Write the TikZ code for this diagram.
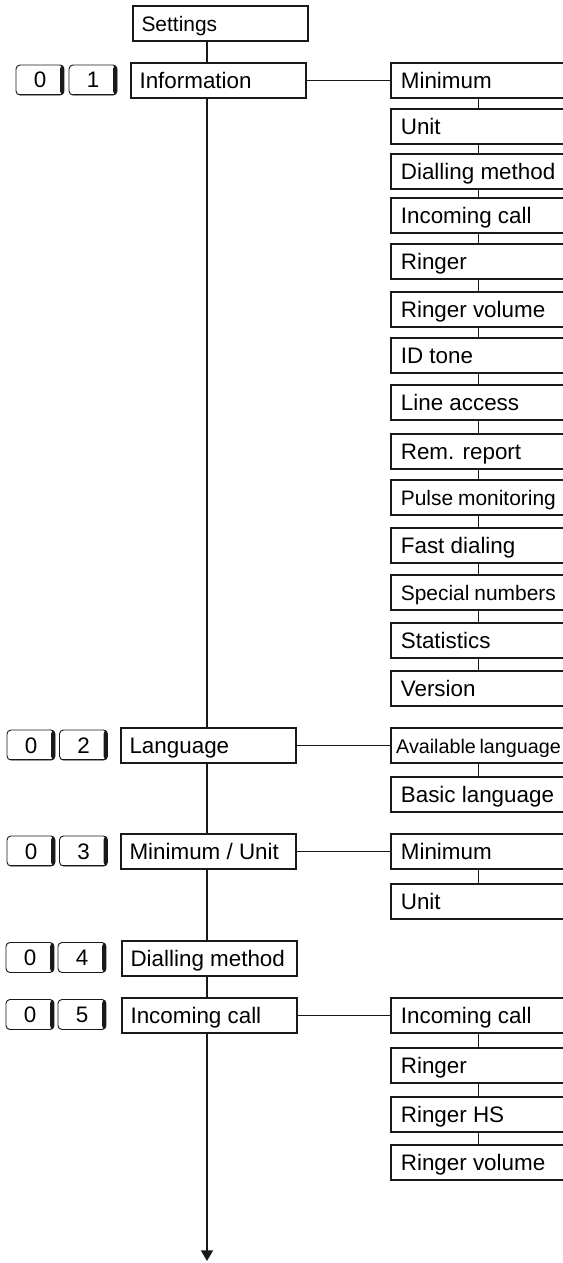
\documentclass[tikz,border=0pt]{standalone}
\usepackage{fontspec}
\setmainfont{Liberation Sans}
\usetikzlibrary{arrows.meta}

\tikzset{boxtext/.store in=\boxtextwd, boxtext=118.25pt}

\begin{document}
\begin{tikzpicture}[x=0.75pt, y=-0.75pt,
  menubox/.style={rectangle, draw=black!90, line width=1.3pt, anchor=north west,
    minimum height=26.6pt, inner xsep=6.5pt, text height=12pt, text depth=0pt,
    execute at begin node={\hbox to \boxtextwd\bgroup},
    execute at end node={\hfil\egroup},
    font=\fontsize{16.8pt}{20pt}\selectfont},
  subbox/.style={menubox, inner xsep=7.5pt, boxtext=116.25pt},
  smalltxt/.style={font=\fontsize{15.7pt}{19pt}\selectfont},
  keycap/.style={rectangle, rounded corners=3pt, draw=black!90, line width=0.7pt,
    minimum width=36pt, minimum height=22.5pt, inner sep=0pt,
    text height=12pt, text depth=0pt,
    font=\fontsize{16.8pt}{20pt}\selectfont,
    path picture={
      \fill[black!90] (path picture bounding box.north east)
        rectangle ([xshift=-3pt]path picture bounding box.south east);
      \draw[black!90, line width=1.4pt] (path picture bounding box.south west)
        -- (path picture bounding box.south east);}},
  conn/.style={draw=black!90, line width=1.3pt},
  arr/.style={conn, -{Triangle[width=9pt, length=8pt]}}
]
\useasboundingbox (0,0) rectangle (562,1263);

%% --- Main menu ---
\coordinate (spine) at (207,0);
\node[menubox, smalltxt] (set)  at (132,5)   {Settings};
\node[menubox] (info) at (130,62)  {Information};
\node[menubox] (lang) at (120,727) {Language};
\node[menubox] (mu)   at (120,833) {Minimum / Unit};
\node[menubox] (dial) at (121,940) {Dialling method};
\node[menubox] (inc)  at (121,997) {Incoming call};
\coordinate (arrowend) at (207,1261);

%% --- Keys ---
\node[keycap] (k1a) at (40,80)    {0};
\node[keycap] (k1b) at (93,80)    {1};
\node[keycap] (k2a) at (31,745)   {0};
\node[keycap] (k2b) at (83.5,745) {2};
\node[keycap] (k3a) at (31,851)   {0};
\node[keycap] (k3b) at (83.5,851) {3};
\node[keycap] (k4a) at (30,957.5) {0};
\node[keycap] (k4b) at (82,957.5) {4};
\node[keycap] (k5a) at (30,1014.5) {0};
\node[keycap] (k5b) at (82,1014.5) {5};

%% --- Information submenu ---
\node[subbox] (iMin)     at (390,62)  {Minimum};
\node[subbox] (iUnit)    at (390,108) {Unit};
\node[subbox] (iDial)    at (390,153) {Dialling method};
\node[subbox] (iInc)     at (390,197) {Incoming call};
\node[subbox] (iRinger)  at (390,243) {Ringer};
\node[subbox] (iVolume)  at (390,291) {Ringer volume};
\node[subbox] (iTone)    at (390,337) {ID tone};
\node[subbox] (iLine)    at (390,384) {Line access};
\node[subbox] (iRem)     at (390,433) {Rem. report};
\node[subbox, smalltxt] (iPulse) at (390,479) {Pulse monitoring};
\node[subbox] (iFast)    at (390,527) {Fast dialing};
\node[subbox, smalltxt] (iSpecial) at (390,574) {Special numbers};
\node[subbox] (iStat)    at (390,622) {Statistics};
\node[subbox] (iVersion) at (390,670) {Version};

%% --- Language submenu ---
\node[subbox, inner xsep=4pt, boxtext=123.25pt,
      font=\fontsize{14.8pt}{18pt}\selectfont]
              (lAvail) at (390,727) {Available language};
\node[subbox] (lBasic) at (390,776) {Basic language};

%% --- Minimum / Unit submenu ---
\node[subbox] (uMin)  at (390,833) {Minimum};
\node[subbox] (uUnit) at (390,883) {Unit};

%% --- Incoming call submenu ---
\node[subbox] (cInc)    at (390,997)  {Incoming call};
\node[subbox] (cRinger) at (390,1047) {Ringer};
\node[subbox] (cHS)     at (390,1096) {Ringer HS};
\node[subbox] (cVolume) at (390,1144) {Ringer volume};

%% --- Main spine ---
\draw[conn] (set.south -| spine) -- (info.north -| spine);
\draw[conn] (info.south -| spine) -- (lang.north -| spine);
\draw[conn] (lang.south -| spine) -- (mu.north -| spine);
\draw[conn] (mu.south -| spine) -- (dial.north -| spine);
\draw[conn] (dial.south -| spine) -- (inc.north -| spine);
\draw[arr] (inc.south -| spine) -- (arrowend);

%% --- Branches ---
\draw[conn] (info.east) -- (iMin.west);
\draw[conn] (lang.east) -- (lAvail.west);
\draw[conn] (mu.east) -- (uMin.west);
\draw[conn] (inc.east) -- (cInc.west);

%% --- Submenu chains ---
\draw[conn] (iMin)--(iUnit); \draw[conn] (iUnit)--(iDial); \draw[conn] (iDial)--(iInc);
\draw[conn] (iInc)--(iRinger); \draw[conn] (iRinger)--(iVolume); \draw[conn] (iVolume)--(iTone);
\draw[conn] (iTone)--(iLine); \draw[conn] (iLine)--(iRem); \draw[conn] (iRem)--(iPulse);
\draw[conn] (iPulse)--(iFast); \draw[conn] (iFast)--(iSpecial); \draw[conn] (iSpecial)--(iStat);
\draw[conn] (iStat)--(iVersion);
\draw[conn] (lAvail)--(lBasic);
\draw[conn] (uMin)--(uUnit);
\draw[conn] (cInc)--(cRinger); \draw[conn] (cRinger)--(cHS); \draw[conn] (cHS)--(cVolume);

\end{tikzpicture}
\end{document}
